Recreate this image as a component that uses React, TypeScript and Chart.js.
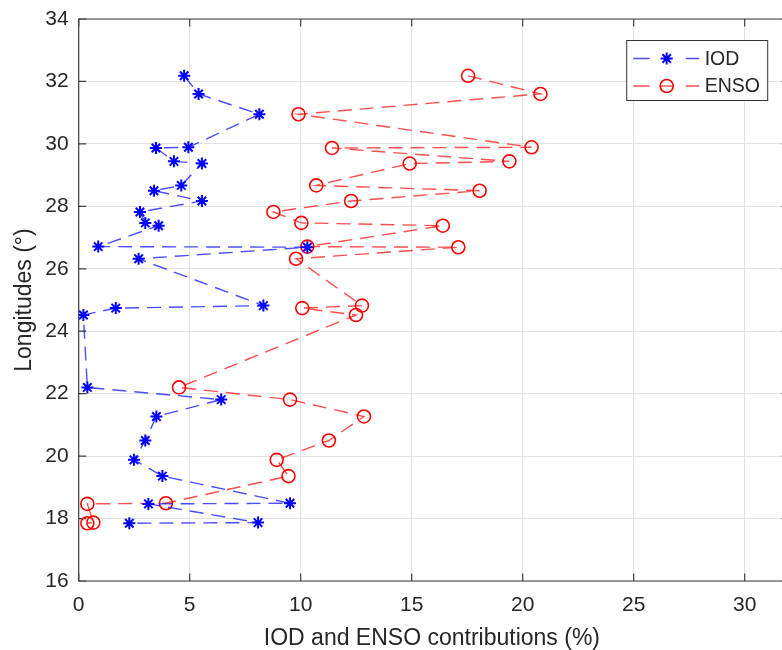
import React, { useEffect, useRef } from 'react';
import { Chart, registerables } from 'chart.js';

Chart.register(...registerables);

// ---- data ----
const longitudes = [32.18, 31.6, 30.95, 29.89, 29.87, 29.44, 29.37, 28.67, 28.5, 28.17, 27.82, 27.47, 27.38, 26.71, 26.69, 26.32, 24.82, 24.74, 24.52, 22.2, 21.81, 21.27, 20.5, 19.88, 19.36, 18.49, 18.47, 17.87, 17.85];
const iodContrib = [4.75, 5.4, 8.14, 4.94, 3.48, 4.29, 5.55, 4.62, 3.39, 5.55, 2.76, 3.0, 3.6, 0.88, 10.3, 2.7, 8.32, 1.67, 0.21, 0.39, 6.42, 3.5, 3.0, 2.49, 3.77, 9.52, 3.14, 8.08, 2.28];
const ensoContrib = [17.54, 20.8, 9.9, 20.4, 11.41, 19.4, 14.91, 10.7, 18.06, 12.27, 8.77, 10.03, 16.4, 10.3, 17.1, 9.79, 12.76, 10.07, 12.49, 4.52, 9.52, 12.85, 11.27, 8.92, 9.45, 3.93, 0.39, 0.66, 0.39];
const xTicks = [0, 5, 10, 15, 20, 25, 30];
const yTicks = [16, 18, 20, 22, 24, 26, 28, 30, 32, 34];
const seriesLabels = ['IOD', 'ENSO'];
const xTitle = 'IOD and ENSO contributions (%)';
const yTitle = 'Longitudes (°)';

const FONT = '"Liberation Sans", Arial, Helvetica, sans-serif';
const AXIS = '#262626';
const BLUE = '#0000ff';
const RED = '#ff0000';
const BLUE_LINE = 'rgba(0,0,255,0.7)';
const RED_LINE = 'rgba(255,0,0,0.7)';

function drawStar(ctx: CanvasRenderingContext2D, x: number, y: number, r: number) {
  ctx.beginPath();
  for (let k = 0; k < 4; k++) {
    const a = (k * Math.PI) / 4;
    ctx.moveTo(x - Math.cos(a) * r, y - Math.sin(a) * r);
    ctx.lineTo(x + Math.cos(a) * r, y + Math.sin(a) * r);
  }
  ctx.stroke();
}

const framePlugin = {
  id: 'matlabFrame',
  beforeDatasetsDraw(chart: any) {
    const { ctx, chartArea: a, scales } = chart;
    ctx.save();
    ctx.strokeStyle = '#3c3c3c';
    ctx.lineWidth = 1.2;
    ctx.beginPath();
    ctx.rect(a.left, a.top, a.right - a.left, a.bottom - a.top);
    ctx.stroke();
    const tl = 7.5;
    ctx.beginPath();
    scales.x.ticks.forEach((t: any) => {
      const px = scales.x.getPixelForValue(t.value);
      ctx.moveTo(px, a.bottom);
      ctx.lineTo(px, a.bottom - tl);
      ctx.moveTo(px, a.top);
      ctx.lineTo(px, a.top + tl);
    });
    scales.y.ticks.forEach((t: any) => {
      const py = scales.y.getPixelForValue(t.value);
      ctx.moveTo(a.left, py);
      ctx.lineTo(a.left + tl, py);
      ctx.moveTo(a.right, py);
      ctx.lineTo(a.right - tl, py);
    });
    ctx.stroke();
    ctx.restore();
  },
  afterDraw(chart: any) {
    const { ctx, chartArea: a } = chart;
    ctx.save();
    // axis titles
    ctx.fillStyle = AXIS;
    ctx.font = `23px ${FONT}`;
    ctx.textAlign = 'center';
    ctx.textBaseline = 'alphabetic';
    ctx.fillText(xTitle, (a.left + a.right) / 2 - 2, 645);
    ctx.save();
    ctx.translate(31, (a.top + a.bottom) / 2);
    ctx.rotate(-Math.PI / 2);
    ctx.fillText(yTitle, 0, 0);
    ctx.restore();

    // legend (northeast)
    const bx = a.right - 162.4;
    const by = 40.5;
    const bw = 141;
    const bh = 60;
    ctx.fillStyle = '#ffffff';
    ctx.fillRect(bx, by, bw, bh);
    ctx.strokeStyle = '#333333';
    ctx.lineWidth = 1;
    ctx.strokeRect(bx, by, bw, bh);
    const rows = [
      { label: seriesLabels[0], y: by + 18, line: BLUE_LINE, marker: 'star', color: BLUE },
      { label: seriesLabels[1], y: by + 45.5, line: RED_LINE, marker: 'circle', color: RED },
    ];
    rows.forEach((r) => {
      ctx.strokeStyle = r.line;
      ctx.lineWidth = 1.4;
      ctx.beginPath();
      ctx.moveTo(bx + 6.5, r.y);
      ctx.lineTo(bx + 23, r.y);
      ctx.moveTo(bx + 59, r.y);
      ctx.lineTo(bx + 72.5, r.y);
      ctx.stroke();
      ctx.strokeStyle = r.color;
      const mx = bx + 40;
      if (r.marker === 'star') {
        ctx.lineWidth = 2;
        drawStar(ctx, mx, r.y, 6);
      } else {
        ctx.lineWidth = 1.6;
        ctx.beginPath();
        ctx.arc(mx, r.y, 6.5, 0, Math.PI * 2);
        ctx.stroke();
        ctx.strokeStyle = r.line;
        ctx.lineWidth = 1.4;
        ctx.beginPath();
        ctx.moveTo(mx - 6, r.y);
        ctx.lineTo(mx + 6, r.y);
        ctx.stroke();
      }
      ctx.fillStyle = AXIS;
      ctx.font = `19.5px ${FONT}`;
      ctx.textAlign = 'left';
      ctx.textBaseline = 'middle';
      ctx.fillText(r.label, bx + 78, r.y + 1);
    });
    ctx.restore();
  },
};

export default function App() {
  const ref = useRef<HTMLCanvasElement>(null);

  useEffect(() => {
    if (!ref.current) return;
    const chart = new Chart(ref.current, {
      type: 'scatter',
      data: {
        datasets: [
          {
            label: seriesLabels[0],
            data: longitudes.map((y, i) => ({ x: iodContrib[i], y })),
            showLine: true,
            borderColor: BLUE_LINE,
            borderWidth: 1.4,
            borderDash: [14, 8],
            pointStyle: 'star',
            pointRadius: 6,
            pointBorderColor: BLUE,
            pointBackgroundColor: BLUE,
            pointBorderWidth: 2,
            tension: 0,
          },
          {
            label: seriesLabels[1],
            data: longitudes.map((y, i) => ({ x: ensoContrib[i], y })),
            showLine: true,
            borderColor: RED_LINE,
            borderWidth: 1.4,
            borderDash: [14, 8],
            pointStyle: 'circle',
            pointRadius: 6.5,
            pointBorderColor: RED,
            pointBackgroundColor: 'rgba(0,0,0,0)',
            pointBorderWidth: 1.6,
            tension: 0,
          },
        ],
      },
      options: {
        responsive: false,
        animation: false,
        events: [],
        layout: { padding: { top: 19, right: 800 - 789.1, bottom: 0, left: 0 } },
        plugins: {
          legend: { display: false },
          tooltip: { enabled: false },
        },
        scales: {
          x: {
            type: 'linear',
            min: 0,
            max: 32,
            afterBuildTicks: (s: any) => {
              s.ticks = xTicks.map((v) => ({ value: v }));
            },
            afterFit: (s: any) => {
              s.height = 69;
              s.paddingLeft = 0;
              s.paddingRight = 0;
            },
            grid: { color: '#e2e2e2', lineWidth: 1, drawTicks: false },
            border: { display: false },
            ticks: { padding: 12, color: AXIS, font: { family: FONT, size: 21 } },
          },
          y: {
            type: 'linear',
            min: 16,
            max: 34,
            afterBuildTicks: (s: any) => {
              s.ticks = yTicks.map((v) => ({ value: v }));
            },
            afterFit: (s: any) => {
              s.width = 78.7;
              s.paddingTop = 0;
              s.paddingBottom = 0;
            },
            grid: { color: '#e2e2e2', lineWidth: 1, drawTicks: false },
            border: { display: false },
            ticks: { padding: 10, color: AXIS, font: { family: FONT, size: 21 } },
          },
        },
      } as any,
      plugins: [framePlugin],
    });
    return () => chart.destroy();
  }, []);

  return (
    <div
      style={{
        position: 'fixed',
        left: 0,
        top: 0,
        width: 782,
        height: 650,
        overflow: 'hidden',
        background: '#ffffff',
      }}
    >
      <canvas ref={ref} width={800} height={650} style={{ display: 'block', width: 800, height: 650 }} />
    </div>
  );
}
